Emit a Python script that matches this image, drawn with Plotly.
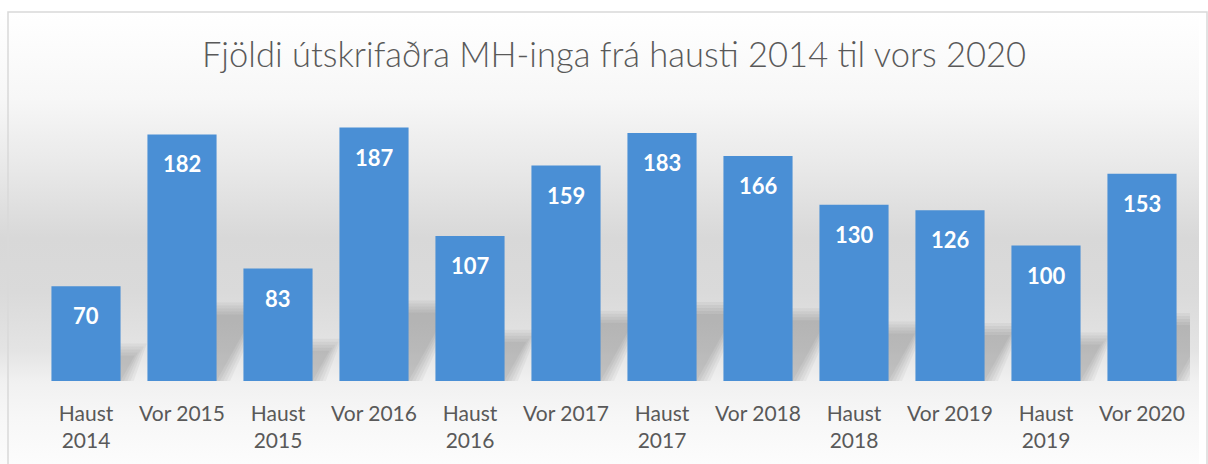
import base64
import plotly.graph_objects as go

# ---- data ----
categories = ["Haust<br>2014", "Vor 2015", "Haust<br>2015", "Vor 2016",
              "Haust<br>2016", "Vor 2017", "Haust<br>2017", "Vor 2018",
              "Haust<br>2018", "Vor 2019", "Haust<br>2019", "Vor 2020"]
values = [70, 182, 83, 187, 107, 159, 183, 166, 130, 126, 100, 153]
title_text = "Fjöldi útskrifaðra MH-inga frá hausti 2014 til vors 2020"

W, H = 1208, 464
ML, MR, MT, MB = 38, 18, 110, 83
PW, PH = W - ML - MR, H - MT - MB
BARGAP = 0.28

# background gradient (decoration)
stops = [(0.0, "#ffffff"), (0.19, "#f7f7f7"), (0.35, "#e8e8e8"), (0.50, "#d8d8d8"),
         (0.62, "#dadada"), (0.75, "#e4e4e4"), (0.82, "#f1f1f1"), (0.9, "#f7f7f7"),
         (1.0, "#fcfcfc")]
stop_xml = "".join(f'<stop offset="{o}" stop-color="{c}"/>' for o, c in stops)
svg = ('<svg xmlns="http://www.w3.org/2000/svg" width="100" height="452" viewBox="0 0 100 452" '
       'preserveAspectRatio="none"><defs><linearGradient id="g" x1="0" y1="0" x2="0" y2="1">'
       + stop_xml + '</linearGradient></defs><rect width="100" height="452" fill="url(#g)"/></svg>')
svg_uri = "data:image/svg+xml;base64," + base64.b64encode(svg.encode()).decode()

fig = go.Figure()
fig.add_trace(go.Bar(
    x=categories, y=values,
    marker=dict(color="#4a8fd5", line=dict(width=0)),
    hoverinfo="x+y",
))

annotations = [
    dict(x=c, y=v, xref="x", yref="y", text=f"<b>{v}</b>", showarrow=False,
         yshift=-29.5, yanchor="middle",
         font=dict(family="Lato", size=22, color="#ffffff"))
    for c, v in zip(categories, values)
]

# soft perspective shadows behind each bar (decoration derived from the bar values)
half = (1 - BARGAP) / 2
ux = 1 / (PW / len(categories))      # data units per px (x)
uy = 200 / PH                        # data units per px (y)
shapes = []
for i, v in enumerate(values):
    hgt = 0.27 * v
    shift = 0.15 * v * (PH / 200) * ux
    for grow in [12, 9, 6, 3, 0]:
        g = grow * ux
        gy = grow * uy
        xl = i - half
        xr = i + half + g
        path = (f"M {xl},{-gy*0.3} L {xr},{-gy*0.3} L {xr + shift},{hgt + gy} "
                f"L {xl + shift},{hgt + gy} Z")
        shapes.append(dict(type="path", xref="x", yref="y", path=path,
                           fillcolor="rgba(0,0,0,0.04)", line=dict(width=0),
                           layer="below"))

shapes.append(dict(type="rect", xref="paper", yref="paper",
                   x0=(8 - ML) / PW, x1=(W - 1 - ML) / PW,
                   y0=-0.5, y1=1 + (MT - 12) / PH,
                   line=dict(color="#d9d9d9", width=1.5), fillcolor="rgba(0,0,0,0)",
                   layer="below"))

fig.update_layout(
    width=W, height=H,
    margin=dict(l=ML, r=MR, t=MT, b=MB, pad=0),
    paper_bgcolor="#ffffff",
    plot_bgcolor="rgba(0,0,0,0)",
    bargap=BARGAP,
    showlegend=False,
    title=dict(text=title_text, x=614 / W, xanchor="center", xref="container",
               y=1 - 55 / H, yanchor="middle",
               font=dict(family="Lato", size=34.5, weight=300, color="#595959")),
    xaxis=dict(showgrid=False, zeroline=False, showline=False, ticks="",
               range=[-0.5, len(categories) - 0.5], autorange=False,
               ticklabelstandoff=18,
               tickfont=dict(family="Lato", size=21, color="#595959")),
    yaxis=dict(visible=False, range=[0, 200], autorange=False,
               showgrid=False, zeroline=False),
    annotations=annotations,
    images=[dict(source=svg_uri, xref="paper", yref="paper",
                 x=-ML / PW, y=1 + (MT - 12) / PH,
                 sizex=(W - 9) / PW, sizey=(H - 12) / PH,
                 xanchor="left", yanchor="top", sizing="stretch", layer="below")],
    shapes=shapes,
)

fig.write_html("out.html", config={"displayModeBar": False},
               post_script="document.body.style.margin='0';")
